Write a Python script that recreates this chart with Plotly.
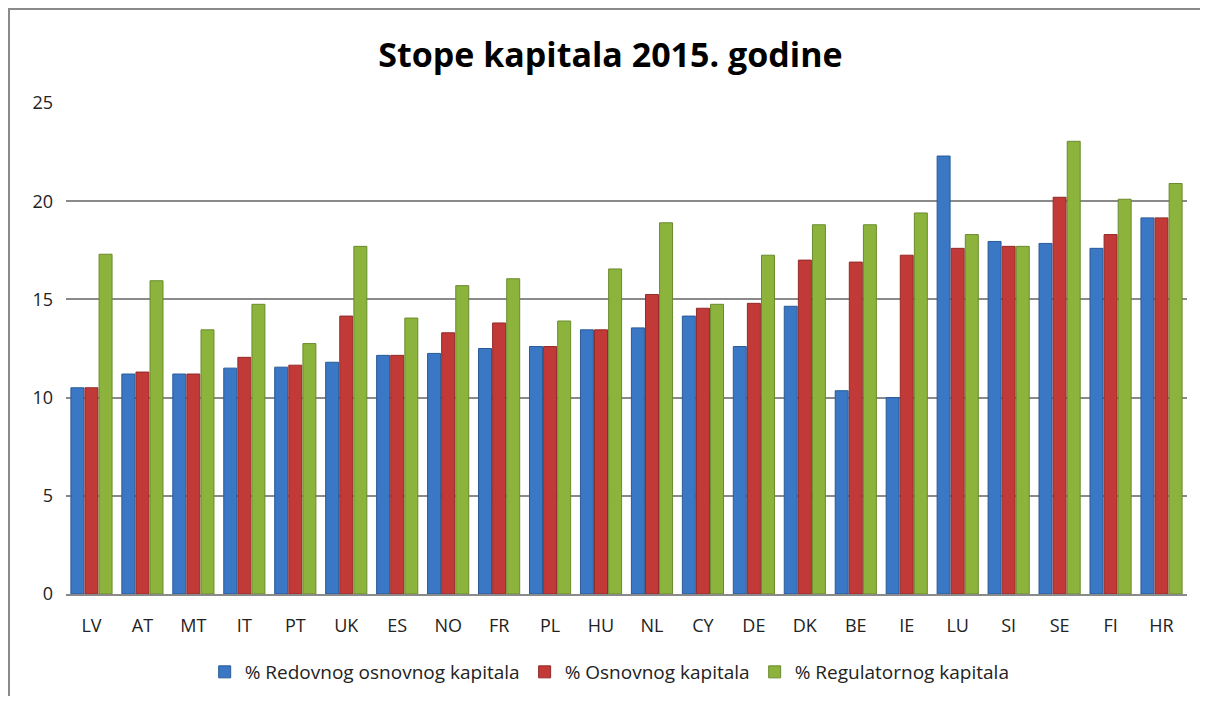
import plotly.graph_objects as go

categories = ["LV", "AT", "MT", "IT", "PT", "UK", "ES", "NO", "FR", "PL", "HU",
              "NL", "CY", "DE", "DK", "BE", "IE", "LU", "SI", "SE", "FI", "HR"]
redovni = [10.5, 11.2, 11.2, 11.5, 11.55, 11.8, 12.15, 12.25, 12.5, 12.6, 13.45,
           13.55, 14.15, 12.6, 14.65, 10.35, 10.0, 22.3, 17.95, 17.85, 17.6, 19.15]
osnovni = [10.5, 11.3, 11.2, 12.05, 11.65, 14.15, 12.15, 13.3, 13.8, 12.6, 13.45,
           15.25, 14.55, 14.8, 17.0, 16.9, 17.25, 17.6, 17.7, 20.2, 18.3, 19.15]
regulatorni = [17.3, 15.95, 13.45, 14.75, 12.75, 17.7, 14.05, 15.7, 16.05, 13.9, 16.55,
               18.9, 14.75, 17.25, 18.8, 18.8, 19.4, 18.3, 17.7, 23.05, 20.1, 20.9]
series_names = ["% Redovnog osnovnog kapitala", "% Osnovnog kapitala", "% Regulatornog kapitala"]

colors = ["#3a77c4", "#c23a38", "#8cb43c"]
edge = ["#2a5a96", "#922a28", "#6a8a2c"]

W, H = 1200, 688
L, R, T, B = 58, 21, 95, 102
PW, PH = W - L - R, H - T - B

fig = go.Figure()
for name, vals, c, e in zip(series_names, [redovni, osnovni, regulatorni], colors, edge):
    fig.add_trace(go.Bar(x=categories, y=vals, name=name,
                         marker=dict(color=c, line=dict(color=e, width=1))))

fig.update_layout(
    width=W, height=H,
    margin=dict(l=L, r=R, t=T, b=B, autoexpand=False),
    paper_bgcolor="white", plot_bgcolor="white",
    barmode="group", bargap=0.17, bargroupgap=0.08,
    title=dict(text="<b>Stope kapitala 2015. godine</b>", x=0.502, xanchor="center",
               y=1 - 47 / H, yanchor="middle",
               font=dict(family="Open Sans, Lato, sans-serif", size=34, color="black")),
    font=dict(family="Open Sans, DejaVu Sans, sans-serif", size=18, color="#222"),
    xaxis=dict(showgrid=False, showline=True, linecolor="#8a8a8a", linewidth=2,
               ticks="", tickfont=dict(size=18, color="#222"), ticklabelstandoff=14,
               automargin=False),
    yaxis=dict(range=[0, 25], dtick=5, showgrid=True, gridcolor="#8a8a8a", gridwidth=2,
               zeroline=False, showline=False, ticks="",
               tickfont=dict(size=18, color="#222"), ticklabelstandoff=12,
               automargin=False),
    legend=dict(orientation="h", x=0.485, xanchor="center", y=-78 / PH,
                yanchor="middle",
                font=dict(size=19, color="#222"), traceorder="normal"),
    shapes=[dict(type="rect", xref="paper", yref="paper",
                 x0=(1 - L) / PW, x1=1.2, y0=-0.4, y1=1 + (T - 1) / PH,
                 line=dict(color="#8a8a8a", width=2), fillcolor="rgba(0,0,0,0)", layer="below")],
    showlegend=True,
)

fig.write_html("out.html")
